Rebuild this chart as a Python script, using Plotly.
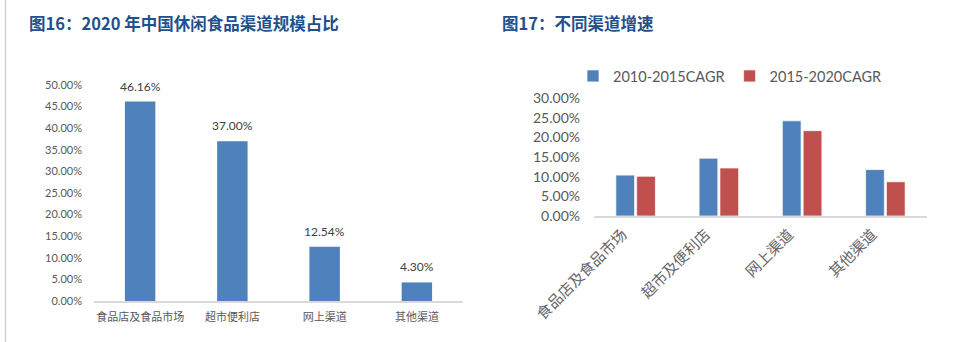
import plotly.graph_objects as go

W, H = 953, 342

# ---- data ----
cats_left = ["食品店及食品市场", "超市便利店", "网上渠道", "其他渠道"]
share_2020 = [46.16, 37.00, 12.54, 4.30]

cats_right = ["食品店及食品市场", "超市及便利店", "网上渠道", "其他渠道"]
cagr_2010_2015 = [10.4, 14.7, 24.2, 11.8]
cagr_2015_2020 = [10.1, 12.2, 21.7, 8.7]

ticks_left = [0, 5, 10, 15, 20, 25, 30, 35, 40, 45, 50]
ticks_right = [0, 5, 10, 15, 20, 25, 30]

title_left = "图16：2020 年中国休闲食品渠道规模占比"
title_right = "图17：不同渠道增速"

BLUE = "#4F81BD"
RED = "#C0504D"
TITLE_C = "#22508C"
TICK_C = "#595959"
AX_C = "#D9D9D9"
NUM_FONT = "Lato, 'Open Sans', sans-serif"
CJK_FONT = "'Noto Sans CJK SC', sans-serif"


def px(x):
    return x / W


def py(y):
    return 1 - y / H


def pct(v):
    return f"{v:.2f}%"


fig = go.Figure()

fig.add_trace(go.Bar(
    x=cats_left, y=share_2020, xaxis="x", yaxis="y",
    marker=dict(color=BLUE), width=0.33, showlegend=False,
    name="占比",
))

# value labels above the left bars
for c, v in zip(cats_left, share_2020):
    fig.add_annotation(
        x=c, y=v, xref="x", yref="y", text=pct(v), showarrow=False,
        yanchor="bottom", yshift=6,
        font=dict(family=NUM_FONT, size=12, color="#404040"),
    )

fig.add_trace(go.Bar(
    x=cats_right, y=cagr_2010_2015, xaxis="x2", yaxis="y2",
    marker=dict(color=BLUE, line=dict(color="rgba(255,255,255,0.7)", width=1)),
    name="2010-2015CAGR",
))
fig.add_trace(go.Bar(
    x=cats_right, y=cagr_2015_2020, xaxis="x2", yaxis="y2",
    marker=dict(color=RED, line=dict(color="rgba(255,255,255,0.7)", width=1)),
    name="2015-2020CAGR",
))

fig.update_layout(
    template="none",
    width=W, height=H,
    margin=dict(l=0, r=0, t=0, b=0, autoexpand=False),
    paper_bgcolor="white", plot_bgcolor="white",
    barmode="group", bargap=0.5, bargroupgap=0.1,
    xaxis=dict(
        domain=[px(94), px(463)], anchor="y", automargin=False,
        showline=True, linecolor=AX_C, linewidth=1.5,
        showgrid=False, ticks="",
        tickfont=dict(family=CJK_FONT, size=11, color=TICK_C),
        ticklabelstandoff=5,
    ),
    yaxis=dict(
        domain=[py(301), py(85)], anchor="x", automargin=False,
        range=[0, 50], tickvals=ticks_left, ticktext=[pct(v) for v in ticks_left],
        showgrid=False, zeroline=False, showline=False, ticks="",
        tickfont=dict(family=NUM_FONT, size=11, color=TICK_C),
        ticklabelstandoff=11,
    ),
    xaxis2=dict(
        domain=[px(594), px(927)], anchor="y2", automargin=False,
        showline=True, linecolor=AX_C, linewidth=1.5,
        showgrid=False, ticks="", tickangle=-45,
        tickfont=dict(family=CJK_FONT, size=15, color="#666666"),
        ticklabelshift=-13, ticklabelstandoff=2,
    ),
    yaxis2=dict(
        domain=[py(216), py(98)], anchor="x2", automargin=False,
        range=[0, 30], tickvals=ticks_right, ticktext=[pct(v) for v in ticks_right],
        showgrid=False, zeroline=False, showline=False, ticks="",
        tickfont=dict(family=NUM_FONT, size=14, color=TICK_C),
        ticklabelstandoff=13,
    ),
    legend=dict(
        orientation="h", x=px(573), y=py(76), xanchor="left", yanchor="middle",
        font=dict(family=NUM_FONT, size=14.5, color=TICK_C),
        itemwidth=30, tracegroupgap=0, bgcolor="rgba(0,0,0,0)",
    ),
    showlegend=True,
)

fig.add_annotation(
    text=f"<b>{title_left}</b>", xref="paper", yref="paper",
    x=px(27), y=py(23), xanchor="left", yanchor="middle", showarrow=False,
    font=dict(family=CJK_FONT, size=16.5, color=TITLE_C),
)
fig.add_annotation(
    text=f"<b>{title_right}</b>", xref="paper", yref="paper",
    x=px(500), y=py(23), xanchor="left", yanchor="middle", showarrow=False,
    font=dict(family=CJK_FONT, size=16.5, color=TITLE_C),
)

fig.add_shape(
    type="line", xref="paper", yref="paper",
    x0=px(5.5), x1=px(5.5), y0=0, y1=1,
    line=dict(color="#D0D0D0", width=1.5),
)

fig.write_html("out.html")
